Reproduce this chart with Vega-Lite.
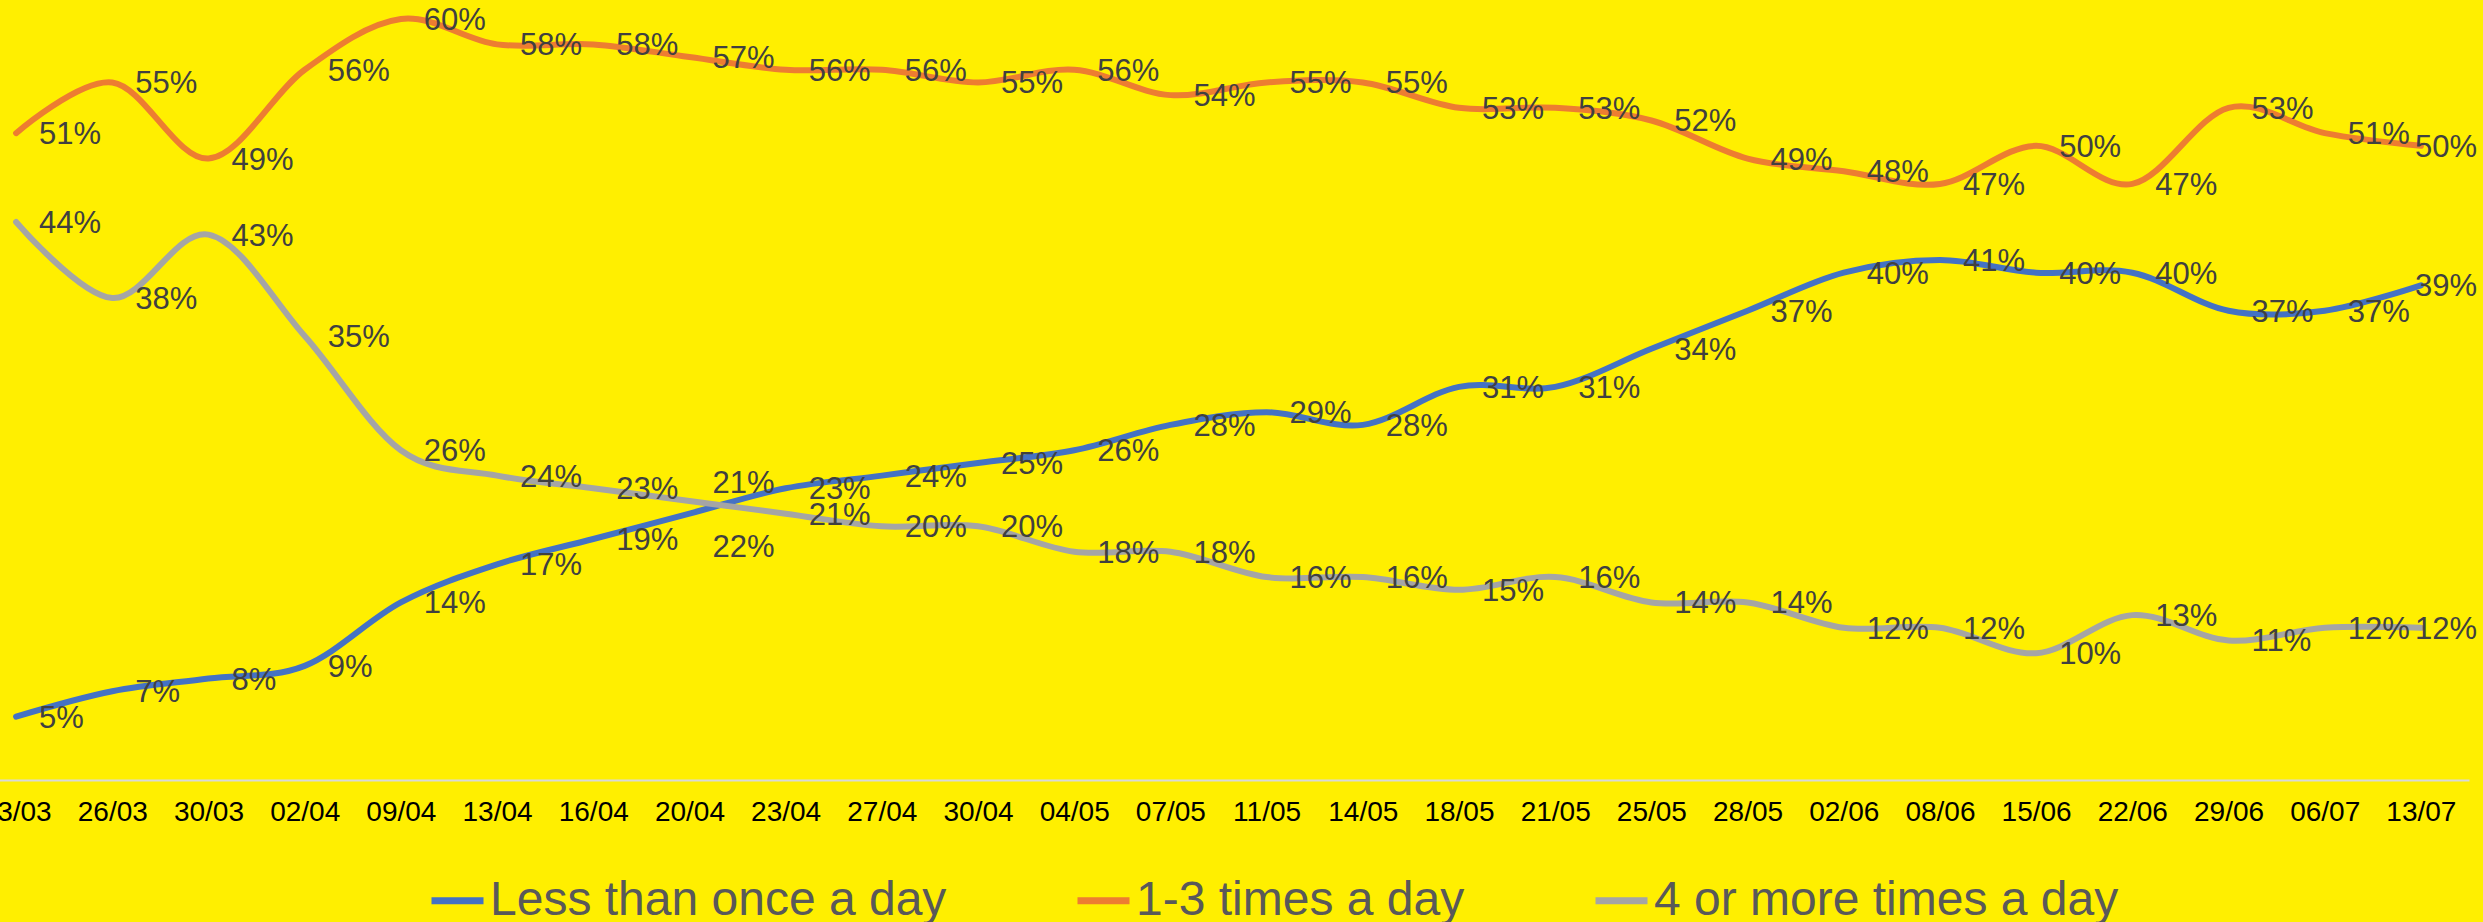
{
  "$schema": "https://vega.github.io/schema/vega-lite/v6.json",
  "width": 2501,
  "height": 780,
  "autosize": {"type": "none"},
  "padding": {"left": -32, "top": 0, "right": 14, "bottom": 142},
  "background": "#FFEF00",
  "config": {"view": {"stroke": null}, "font": "Liberation Sans"},
  "datasets": {
    "rows": [
      {"d": "23/03", "s": "Less than once a day", "v": 0.05},
      {"d": "26/03", "s": "Less than once a day", "v": 0.07},
      {"d": "30/03", "s": "Less than once a day", "v": 0.08},
      {"d": "02/04", "s": "Less than once a day", "v": 0.09},
      {"d": "09/04", "s": "Less than once a day", "v": 0.14},
      {"d": "13/04", "s": "Less than once a day", "v": 0.17},
      {"d": "16/04", "s": "Less than once a day", "v": 0.19},
      {"d": "20/04", "s": "Less than once a day", "v": 0.21},
      {"d": "23/04", "s": "Less than once a day", "v": 0.23},
      {"d": "27/04", "s": "Less than once a day", "v": 0.24},
      {"d": "30/04", "s": "Less than once a day", "v": 0.25},
      {"d": "04/05", "s": "Less than once a day", "v": 0.26},
      {"d": "07/05", "s": "Less than once a day", "v": 0.28},
      {"d": "11/05", "s": "Less than once a day", "v": 0.29},
      {"d": "14/05", "s": "Less than once a day", "v": 0.28},
      {"d": "18/05", "s": "Less than once a day", "v": 0.31},
      {"d": "21/05", "s": "Less than once a day", "v": 0.31},
      {"d": "25/05", "s": "Less than once a day", "v": 0.34},
      {"d": "28/05", "s": "Less than once a day", "v": 0.37},
      {"d": "02/06", "s": "Less than once a day", "v": 0.40},
      {"d": "08/06", "s": "Less than once a day", "v": 0.41},
      {"d": "15/06", "s": "Less than once a day", "v": 0.40},
      {"d": "22/06", "s": "Less than once a day", "v": 0.40},
      {"d": "29/06", "s": "Less than once a day", "v": 0.37},
      {"d": "06/07", "s": "Less than once a day", "v": 0.37},
      {"d": "13/07", "s": "Less than once a day", "v": 0.39},
      {"d": "23/03", "s": "1-3 times a day", "v": 0.51},
      {"d": "26/03", "s": "1-3 times a day", "v": 0.55},
      {"d": "30/03", "s": "1-3 times a day", "v": 0.49},
      {"d": "02/04", "s": "1-3 times a day", "v": 0.56},
      {"d": "09/04", "s": "1-3 times a day", "v": 0.60},
      {"d": "13/04", "s": "1-3 times a day", "v": 0.58},
      {"d": "16/04", "s": "1-3 times a day", "v": 0.58},
      {"d": "20/04", "s": "1-3 times a day", "v": 0.57},
      {"d": "23/04", "s": "1-3 times a day", "v": 0.56},
      {"d": "27/04", "s": "1-3 times a day", "v": 0.56},
      {"d": "30/04", "s": "1-3 times a day", "v": 0.55},
      {"d": "04/05", "s": "1-3 times a day", "v": 0.56},
      {"d": "07/05", "s": "1-3 times a day", "v": 0.54},
      {"d": "11/05", "s": "1-3 times a day", "v": 0.55},
      {"d": "14/05", "s": "1-3 times a day", "v": 0.55},
      {"d": "18/05", "s": "1-3 times a day", "v": 0.53},
      {"d": "21/05", "s": "1-3 times a day", "v": 0.53},
      {"d": "25/05", "s": "1-3 times a day", "v": 0.52},
      {"d": "28/05", "s": "1-3 times a day", "v": 0.49},
      {"d": "02/06", "s": "1-3 times a day", "v": 0.48},
      {"d": "08/06", "s": "1-3 times a day", "v": 0.47},
      {"d": "15/06", "s": "1-3 times a day", "v": 0.50},
      {"d": "22/06", "s": "1-3 times a day", "v": 0.47},
      {"d": "29/06", "s": "1-3 times a day", "v": 0.53},
      {"d": "06/07", "s": "1-3 times a day", "v": 0.51},
      {"d": "13/07", "s": "1-3 times a day", "v": 0.50},
      {"d": "23/03", "s": "4 or more times a day", "v": 0.44},
      {"d": "26/03", "s": "4 or more times a day", "v": 0.38},
      {"d": "30/03", "s": "4 or more times a day", "v": 0.43},
      {"d": "02/04", "s": "4 or more times a day", "v": 0.35},
      {"d": "09/04", "s": "4 or more times a day", "v": 0.26},
      {"d": "13/04", "s": "4 or more times a day", "v": 0.24},
      {"d": "16/04", "s": "4 or more times a day", "v": 0.23},
      {"d": "20/04", "s": "4 or more times a day", "v": 0.22},
      {"d": "23/04", "s": "4 or more times a day", "v": 0.21},
      {"d": "27/04", "s": "4 or more times a day", "v": 0.20},
      {"d": "30/04", "s": "4 or more times a day", "v": 0.20},
      {"d": "04/05", "s": "4 or more times a day", "v": 0.18},
      {"d": "07/05", "s": "4 or more times a day", "v": 0.18},
      {"d": "11/05", "s": "4 or more times a day", "v": 0.16},
      {"d": "14/05", "s": "4 or more times a day", "v": 0.16},
      {"d": "18/05", "s": "4 or more times a day", "v": 0.15},
      {"d": "21/05", "s": "4 or more times a day", "v": 0.16},
      {"d": "25/05", "s": "4 or more times a day", "v": 0.14},
      {"d": "28/05", "s": "4 or more times a day", "v": 0.14},
      {"d": "02/06", "s": "4 or more times a day", "v": 0.12},
      {"d": "08/06", "s": "4 or more times a day", "v": 0.12},
      {"d": "15/06", "s": "4 or more times a day", "v": 0.10},
      {"d": "22/06", "s": "4 or more times a day", "v": 0.13},
      {"d": "29/06", "s": "4 or more times a day", "v": 0.11},
      {"d": "06/07", "s": "4 or more times a day", "v": 0.12},
      {"d": "13/07", "s": "4 or more times a day", "v": 0.12}
    ]
  },
  "data": {"name": "rows"},
  "encoding": {
    "x": {
      "field": "d",
      "type": "ordinal",
      "sort": null,
      "scale": {"type": "point", "padding": 0.5},
      "axis": {
        "title": null,
        "labelAngle": 0,
        "labelFontSize": 28,
        "labelColor": "#000000",
        "labelFont": "Liberation Sans",
        "labelPadding": 18,
        "ticks": false,
        "domainColor": "#D9D9D9",
        "domainWidth": 2,
        "grid": false
      }
    },
    "y": {
      "field": "v",
      "type": "quantitative",
      "scale": {"domain": [0, 0.615], "nice": false, "zero": true},
      "axis": null
    }
  },
  "layer": [
    {
      "mark": {"type": "line", "interpolate": "cardinal", "strokeWidth": 6, "strokeCap": "round", "clip": false},
      "encoding": {
        "color": {
          "field": "s",
          "type": "nominal",
          "sort": null,
          "scale": {
            "domain": ["Less than once a day", "1-3 times a day", "4 or more times a day"],
            "range": ["#4472C4", "#ED7D31", "#A5A5A5"]
          },
          "legend": {
            "title": null,
            "orient": "none",
            "direction": "horizontal",
            "legendX": 460,
            "legendY": 871,
            "padding": 0,
            "symbolType": "stroke",
            "symbolSize": 2704,
            "symbolStrokeWidth": 7,
            "labelFontSize": 48,
            "labelFont": "Liberation Sans",
            "labelColor": "#595959",
            "labelOffset": 3,
            "columnPadding": 116,
            "labelLimit": 1000
          }
        }
      }
    },
    {
      "transform": [
        {"filter": "datum.d != '13/07' && !(datum.d == '20/04' && (datum.s == 'Less than once a day' || datum.s == '4 or more times a day'))"}
      ],
      "mark": {"type": "text", "align": "left", "baseline": "middle", "dx": 23, "dy": 2, "fontSize": 31, "color": "#404040", "font": "Liberation Sans"},
      "encoding": {"text": {"field": "v", "type": "quantitative", "format": ".0%"}}
    },
    {
      "transform": [
        {"filter": "datum.d == '13/07'"}
      ],
      "mark": {"type": "text", "align": "left", "baseline": "middle", "dx": -6, "dy": 2, "fontSize": 31, "color": "#404040", "font": "Liberation Sans"},
      "encoding": {"text": {"field": "v", "type": "quantitative", "format": ".0%"}}
    },
    {
      "transform": [
        {"filter": "datum.d == '20/04' && datum.s == 'Less than once a day'"}
      ],
      "mark": {"type": "text", "align": "left", "baseline": "middle", "dx": 23, "dy": -30, "fontSize": 31, "color": "#404040", "font": "Liberation Sans"},
      "encoding": {"text": {"field": "v", "type": "quantitative", "format": ".0%"}}
    },
    {
      "transform": [
        {"filter": "datum.d == '20/04' && datum.s == '4 or more times a day'"}
      ],
      "mark": {"type": "text", "align": "left", "baseline": "middle", "dx": 23, "dy": 47, "fontSize": 31, "color": "#404040", "font": "Liberation Sans"},
      "encoding": {"text": {"field": "v", "type": "quantitative", "format": ".0%"}}
    }
  ]
}
